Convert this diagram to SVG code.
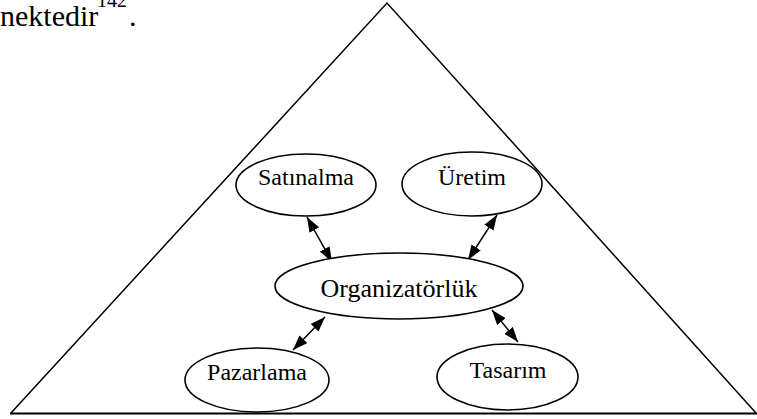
<svg xmlns="http://www.w3.org/2000/svg" width="757" height="419" viewBox="0 0 757 419">
  <style>
    .node ellipse { fill: #ffffff; stroke: #000000; stroke-width: 1.6; }
    .label { font-family: 'Liberation Serif', 'DejaVu Serif', 'Times New Roman', Times, serif; font-size: 24px; fill: #000000; text-anchor: middle; }
    .body { font-family: 'Liberation Serif', 'DejaVu Serif', 'Times New Roman', Times, serif; fill: #000000; }
    .link { stroke: #000000; stroke-width: 1.5; fill: none; marker-start: url(#head); marker-end: url(#head); }
  </style>
  <defs>
    <marker id="head" viewBox="0 0 15 11" refX="15" refY="5.5" markerWidth="15" markerHeight="11" markerUnits="userSpaceOnUse" orient="auto-start-reverse">
      <path d="M0,0 L15,5.5 L0,11 z" fill="#000000"/>
    </marker>
  </defs>

  <rect width="757" height="419" fill="#ffffff"/>

  <!-- running text above the figure -->
  <text class="body" x="0" y="26" font-size="30">nektedir</text>
  <text class="body" x="97" y="7" font-size="20">142</text>
  <text class="body" x="129" y="26" font-size="30">.</text>

  <!-- enclosing triangle -->
  <g id="frame">
    <path d="M11,413 L387,3 L756,413" fill="none" stroke="#000000" stroke-width="1.5"/>
    <line x1="10" y1="413.5" x2="757" y2="413.5" stroke="#000000" stroke-width="2.2"/>
  </g>

  <!-- double-headed connectors -->
  <g id="connectors">
    <line class="link" x1="307" y1="217" x2="332" y2="262"/>
    <line class="link" x1="497" y1="215" x2="468" y2="260"/>
    <line class="link" x1="325" y1="317" x2="293" y2="350"/>
    <line class="link" x1="492" y1="310" x2="518" y2="342"/>
  </g>

  <g id="satinalma" class="node">
    <ellipse cx="306" cy="185" rx="70" ry="31"/>
    <text class="label" x="306" y="185">Satınalma</text>
  </g>

  <g id="uretim" class="node">
    <ellipse cx="472" cy="184" rx="70" ry="32"/>
    <text class="label" x="472" y="185">Üretim</text>
  </g>

  <g id="organizatorluk" class="node">
    <ellipse cx="399" cy="286" rx="124" ry="33"/>
    <text class="label" x="399" y="297" style="font-size:26px">Organizatörlük</text>
  </g>

  <g id="pazarlama" class="node">
    <ellipse cx="257" cy="380" rx="72" ry="32"/>
    <text class="label" x="257" y="380">Pazarlama</text>
  </g>

  <g id="tasarim" class="node">
    <ellipse cx="507.5" cy="377" rx="70.5" ry="33"/>
    <text class="label" x="508" y="378">Tasarım</text>
  </g>
</svg>
